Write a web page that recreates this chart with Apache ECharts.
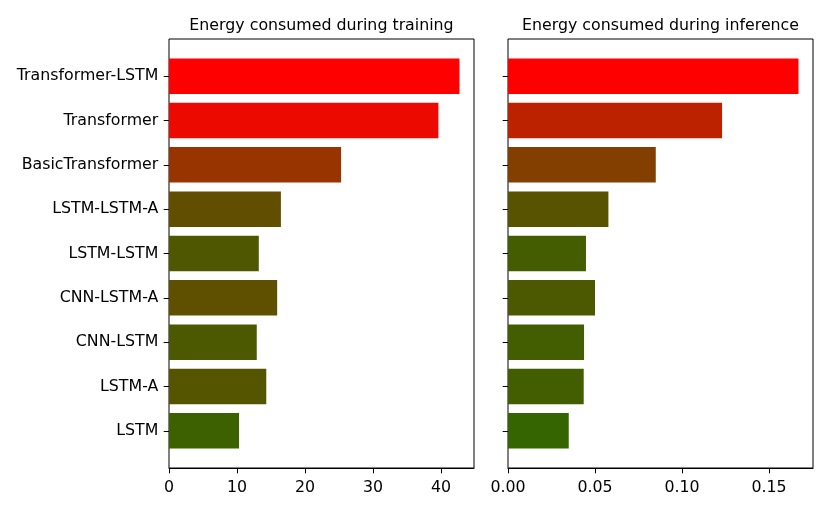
<!DOCTYPE html>
<html>
<head>
<meta charset="utf-8">
<script src="https://cdn.jsdelivr.net/npm/echarts@6/dist/echarts.min.js"></script>
<style>
  html, body { margin: 0; padding: 0; background: #fff; }
  #chart { width: 830px; height: 512px; }
</style>
</head>
<body>
<div id="chart"></div>
<script>
(function () {
    'use strict';

    // models, top to bottom
    var models = ['Transformer-LSTM', 'Transformer', 'BasicTransformer', 'LSTM-LSTM-A',
        'LSTM-LSTM', 'CNN-LSTM-A', 'CNN-LSTM', 'LSTM-A', 'LSTM'];

    var trainEnergy = [42.7, 39.6, 25.3, 16.45, 13.2, 15.9, 12.9, 14.3, 10.3];
    var inferEnergy = [0.1669, 0.1230, 0.0849, 0.0577, 0.0448, 0.0500, 0.0437, 0.0435, 0.0349];

    var trainTicks = [0, 10, 20, 30, 40];
    var inferTicks = [0, 0.05, 0.10, 0.15];

    var titles = ['Energy consumed during training', 'Energy consumed during inference'];

    var font = 'DejaVu Sans';
    var fs = 15.8;

    // bar colour goes from green to red with the value (as in the original plot)
    function colorFor(maxVal) {
        return function (p) {
            var r = p.value / maxVal;
            return 'rgb(' + Math.round(255 * r) + ',' + Math.round(127.5 * (1 - r)) + ',0)';
        };
    }

    var trainMax = Math.max.apply(null, trainEnergy);
    var inferMax = Math.max.apply(null, inferEnergy);

    function valueAxis(grid, maxVal, ticks, fmt) {
        return {
            type: 'value',
            gridIndex: grid,
            min: 0,
            max: maxVal * 1.05,
            offset: 15,
            splitLine: { show: false },
            axisLine: { show: true, lineStyle: { color: '#000', width: 1 } },
            axisTick: { show: true, length: 5.3, customValues: ticks, lineStyle: { color: '#000' } },
            axisLabel: {
                customValues: ticks, margin: 11.5, color: '#000',
                fontFamily: font, fontSize: fs, formatter: fmt
            }
        };
    }

    function catAxis(grid, showLabels) {
        return {
            type: 'category',
            gridIndex: grid,
            inverse: true,
            data: models,
            axisLine: { show: false },
            axisTick: { show: true, alignWithLabel: true, length: 5.3, lineStyle: { color: '#000' } },
            axisLabel: { show: showLabels, margin: 10.7, color: '#000', fontFamily: font, fontSize: fs }
        };
    }

    function frameX(grid, name) {
        return {
            type: 'value', gridIndex: grid, position: 'top',
            axisLine: { show: false }, axisTick: { show: false }, axisLabel: { show: false },
            splitLine: { show: false },
            name: name, nameLocation: 'middle', nameGap: 5,
            nameTextStyle: { color: '#000', fontFamily: font, fontSize: 15.8 }
        };
    }

    function frameY(grid) {
        return {
            type: 'value', gridIndex: grid, show: false, splitLine: { show: false }
        };
    }

    var option = {
        backgroundColor: '#fff',
        animation: false,
        grid: [
            { left: 169, top: 54, width: 305, height: 399 },
            { left: 508, top: 54, width: 305, height: 399 },
            { left: 169, top: 39, width: 305, height: 429, show: true, borderColor: '#000', borderWidth: 1, backgroundColor: 'transparent' },
            { left: 508, top: 39, width: 305, height: 429, show: true, borderColor: '#000', borderWidth: 1, backgroundColor: 'transparent' }
        ],
        xAxis: [
            valueAxis(0, trainMax, trainTicks, function (v) { return String(v); }),
            valueAxis(1, inferMax, inferTicks, function (v) { return v.toFixed(2); }),
            frameX(2, titles[0]),
            frameX(3, titles[1])
        ],
        yAxis: [
            catAxis(0, true),
            catAxis(1, false),
            frameY(2),
            frameY(3)
        ],
        series: [
            {
                type: 'bar', xAxisIndex: 0, yAxisIndex: 0,
                data: trainEnergy, barWidth: '80%',
                itemStyle: { color: colorFor(trainMax) }
            },
            {
                type: 'bar', xAxisIndex: 1, yAxisIndex: 1,
                data: inferEnergy, barWidth: '80%',
                itemStyle: { color: colorFor(inferMax) }
            }
        ]
    };

    var chart = echarts.init(document.getElementById('chart'));
    chart.setOption(option);
})();
</script>
</body>
</html>
